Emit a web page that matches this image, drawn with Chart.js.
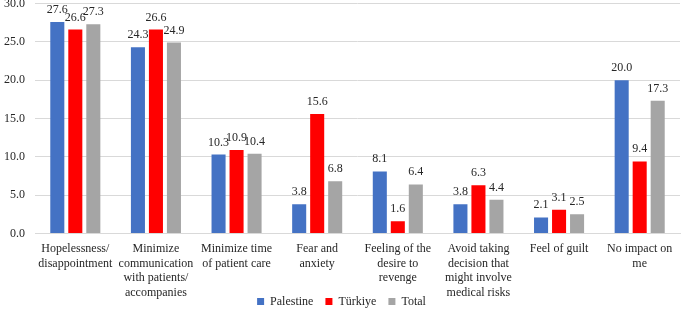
<!DOCTYPE html>
<html>
<head>
<meta charset="utf-8">
<script src="https://cdn.jsdelivr.net/npm/chart.js@4"></script>
<style>
  html, body { margin: 0; padding: 0; background: #fff; }
  #wrap { width: 685px; height: 320px; position: relative; }
</style>
</head>
<body>
<div id="wrap"><canvas id="chart"></canvas></div>
<script>
// Categories (multi-line labels as in the original)
const categories = [
    ['Hopelessness/', 'disappointment'],
    ['Minimize', 'communication', 'with patients/', 'accompanies'],
    ['Minimize time', 'of patient care'],
    ['Fear and', 'anxiety'],
    ['Feeling of the', 'desire to', 'revenge'],
    ['Avoid taking', 'decision that', 'might involve', 'medical risks'],
    ['Feel of guilt'],
    ['No impact on', 'me']
];

// Series values
const palestine = [27.6, 24.3, 10.3, 3.8, 8.1, 3.8, 2.1, 20.0];
const turkiye   = [26.6, 26.6, 10.9, 15.6, 1.6, 6.3, 3.1, 9.4];
const total     = [27.3, 24.9, 10.4, 6.8, 6.4, 4.4, 2.5, 17.3];

// Y axis range
const yMin = 0;
const yMax = 30;
const yStep = 5;

const FONT = "'Liberation Serif', 'Times New Roman', serif";
const TEXT_COLOR = '#262626';

// Draw the value above every bar
const valueLabels = {
    id: 'valueLabels',
    afterDatasetsDraw(chart) {
        const ctx = chart.ctx;
        ctx.save();
        ctx.font = '12px ' + FONT;
        ctx.fillStyle = TEXT_COLOR;
        ctx.textAlign = 'center';
        ctx.textBaseline = 'alphabetic';
        chart.data.datasets.forEach((ds, i) => {
            const meta = chart.getDatasetMeta(i);
            meta.data.forEach((bar, j) => {
                ctx.fillText(ds.data[j].toFixed(1), bar.x, bar.y - 9);
            });
        });
        ctx.restore();
    }
};

// Pull the legend's top edge up so it sits beside the lowest category label lines
const legendNudge = {
    id: 'legendNudge',
    afterLayout(chart) {
        if (!chart.legend) return;
        chart.legend.top -= 17;
        chart.legend.height += 17;
    }
};

new Chart(document.getElementById('chart'), {
    type: 'bar',
    data: {
        labels: categories,
        datasets: [
            { label: 'Palestine', data: palestine, backgroundColor: '#4472C4' },
            { label: 'Türkiye', data: turkiye, backgroundColor: '#FF0000' },
            { label: 'Total', data: total, backgroundColor: '#A5A5A5' }
        ]
    },
    options: {
        responsive: true,
        maintainAspectRatio: false,
        animation: false,
        devicePixelRatio: 1,
        categoryPercentage: 0.67,
        barPercentage: 0.78,
        layout: { padding: { top: 0, right: 5, left: 3, bottom: 0 } },
        scales: {
            x: {
                grid: { display: false, drawTicks: false },
                border: { display: true, color: '#d9d9d9', width: 1 },
                ticks: {
                    color: TEXT_COLOR,
                    font: { family: FONT, size: 12, lineHeight: 1.22 },
                    padding: 8,
                    maxRotation: 0,
                    autoSkip: false
                },
                afterFit: scale => {
                    scale.height = 67;
                    scale.paddingLeft = 0;
                }
            },
            y: {
                min: yMin,
                max: yMax,
                grid: { color: '#d9d9d9', drawTicks: false },
                border: { display: false },
                ticks: {
                    stepSize: yStep,
                    color: TEXT_COLOR,
                    font: { family: FONT, size: 12 },
                    padding: 10,
                    callback: v => v.toFixed(1)
                },
                afterFit: scale => {
                    scale.width = 32;
                    scale.paddingTop = 3.5;
                }
            }
        },
        plugins: {
            legend: {
                position: 'bottom',
                maxHeight: 19.5,
                labels: {
                    color: TEXT_COLOR,
                    font: { family: FONT, size: 12 },
                    boxWidth: 7,
                    boxHeight: 7,
                    padding: 12
                }
            },
            tooltip: { enabled: false }
        }
    },
    plugins: [valueLabels, legendNudge]
});
</script>
</body>
</html>
